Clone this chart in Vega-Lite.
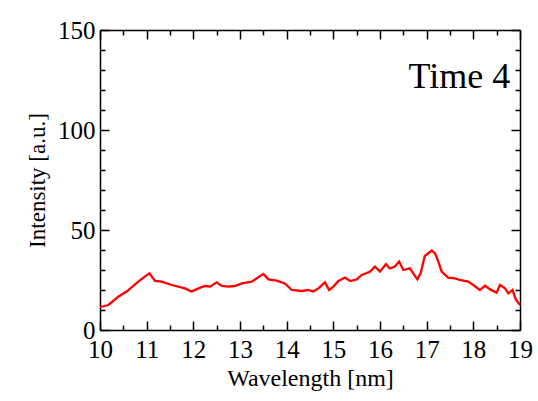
{
  "$schema": "https://vega.github.io/schema/vega-lite/v6.json",
  "width": 420,
  "height": 300,
  "autosize": "none",
  "padding": {"left": 100, "top": 30, "right": 18, "bottom": 71},
  "background": "white",
  "config": {
    "view": {"stroke": null},
    "font": "Liberation Serif",
    "axis": {
      "grid": false,
      "domainColor": "black",
      "domainWidth": 1.5,
      "tickColor": "black",
      "tickWidth": 1.5,
      "labelFont": "Liberation Serif",
      "labelFontSize": 25,
      "labelColor": "black",
      "titleFont": "Liberation Serif",
      "titleFontSize": 23,
      "titleFontWeight": "normal",
      "titleColor": "black",
      "labelFlush": false,
      "labelOverlap": false
    }
  },
  "data": {
    "values": [
      {"w": 10.0, "i": 11.5}, {"w": 10.18, "i": 12.5}, {"w": 10.39, "i": 16.6}, {"w": 10.57, "i": 19.2},
      {"w": 10.82, "i": 24.2}, {"w": 10.96, "i": 26.7}, {"w": 11.06, "i": 28.3}, {"w": 11.18, "i": 24.5},
      {"w": 11.32, "i": 24.2}, {"w": 11.54, "i": 22.5}, {"w": 11.82, "i": 20.8}, {"w": 11.96, "i": 19.2},
      {"w": 12.11, "i": 20.8}, {"w": 12.25, "i": 22.0}, {"w": 12.36, "i": 21.7}, {"w": 12.5, "i": 23.8},
      {"w": 12.61, "i": 22.0}, {"w": 12.75, "i": 21.7}, {"w": 12.89, "i": 22.0}, {"w": 13.04, "i": 23.3},
      {"w": 13.25, "i": 24.2}, {"w": 13.5, "i": 28.0}, {"w": 13.61, "i": 25.3}, {"w": 13.79, "i": 24.7},
      {"w": 13.96, "i": 23.3}, {"w": 14.11, "i": 20.0}, {"w": 14.32, "i": 19.5}, {"w": 14.46, "i": 20.0},
      {"w": 14.57, "i": 19.2}, {"w": 14.68, "i": 20.8}, {"w": 14.82, "i": 23.8}, {"w": 14.91, "i": 20.0},
      {"w": 15.0, "i": 21.7}, {"w": 15.11, "i": 24.5}, {"w": 15.25, "i": 26.2}, {"w": 15.36, "i": 24.5},
      {"w": 15.5, "i": 25.3}, {"w": 15.61, "i": 27.5}, {"w": 15.79, "i": 29.2}, {"w": 15.89, "i": 31.7},
      {"w": 16.0, "i": 29.2}, {"w": 16.13, "i": 33.0}, {"w": 16.21, "i": 30.8}, {"w": 16.32, "i": 31.7},
      {"w": 16.41, "i": 34.2}, {"w": 16.5, "i": 30.0}, {"w": 16.64, "i": 30.8}, {"w": 16.8, "i": 25.3},
      {"w": 16.87, "i": 28.3}, {"w": 16.96, "i": 37.0}, {"w": 17.11, "i": 39.7}, {"w": 17.18, "i": 38.3},
      {"w": 17.25, "i": 34.2}, {"w": 17.32, "i": 29.2}, {"w": 17.46, "i": 26.2}, {"w": 17.61, "i": 25.8},
      {"w": 17.71, "i": 25.0}, {"w": 17.89, "i": 24.2}, {"w": 18.0, "i": 22.5}, {"w": 18.14, "i": 20.0},
      {"w": 18.25, "i": 22.2}, {"w": 18.36, "i": 20.3}, {"w": 18.5, "i": 18.7}, {"w": 18.57, "i": 22.5},
      {"w": 18.68, "i": 20.8}, {"w": 18.75, "i": 18.3}, {"w": 18.84, "i": 20.0}, {"w": 18.91, "i": 15.3},
      {"w": 19.0, "i": 12.5}
    ]
  },
  "layer": [
    {
      "mark": {"type": "line", "color": "#ff0000", "strokeWidth": 2.3},
      "encoding": {
        "x": {"field": "w", "type": "quantitative", "scale": {"domain": [10, 19], "nice": false, "zero": false},
          "axis": {"orient": "bottom", "values": [10, 11, 12, 13, 14, 15, 16, 17, 18, 19], "tickSize": -9, "labelPadding": 16, "title": "Wavelength [nm]", "titleFontSize": 24, "titlePadding": 4}},
        "y": {"field": "i", "type": "quantitative", "scale": {"domain": [0, 150], "nice": false, "zero": true},
          "axis": {"orient": "left", "values": [0, 50, 100, 150], "tickSize": -9, "labelPadding": 14, "title": "Intensity [a.u.]", "titlePadding": 8}}
      }
    },
    {
      "mark": {"type": "line", "opacity": 0},
      "encoding": {
        "x": {"field": "w", "type": "quantitative",
          "axis": {"orient": "bottom", "values": [10.5, 11.5, 12.5, 13.5, 14.5, 15.5, 16.5, 17.5, 18.5], "tickSize": -5, "labels": false, "domain": false, "title": null}},
        "y": {"field": "i", "type": "quantitative",
          "axis": {"orient": "left", "values": [10, 20, 30, 40, 60, 70, 80, 90, 110, 120, 130, 140], "tickSize": -5, "labels": false, "domain": false, "title": null}}
      }
    },
    {
      "mark": {"type": "line", "opacity": 0},
      "encoding": {
        "x": {"field": "w", "type": "quantitative",
          "axis": {"orient": "top", "values": [10, 11, 12, 13, 14, 15, 16, 17, 18, 19], "tickSize": -9, "labels": false, "title": null}},
        "y": {"field": "i", "type": "quantitative",
          "axis": {"orient": "right", "values": [0, 50, 100, 150], "tickSize": -9, "labels": false, "title": null}}
      }
    },
    {
      "mark": {"type": "line", "opacity": 0},
      "encoding": {
        "x": {"field": "w", "type": "quantitative",
          "axis": {"orient": "top", "values": [10.5, 11.5, 12.5, 13.5, 14.5, 15.5, 16.5, 17.5, 18.5], "tickSize": -5, "labels": false, "domain": false, "title": null}},
        "y": {"field": "i", "type": "quantitative",
          "axis": {"orient": "right", "values": [10, 20, 30, 40, 60, 70, 80, 90, 110, 120, 130, 140], "tickSize": -5, "labels": false, "domain": false, "title": null}}
      }
    },
    {
      "data": {"values": [{"label": "Time 4", "w": 18.79, "i": 121}]},
      "mark": {"type": "text", "font": "Liberation Serif", "fontSize": 36, "align": "right", "baseline": "alphabetic", "color": "black"},
      "encoding": {
        "x": {"field": "w", "type": "quantitative", "axis": null},
        "y": {"field": "i", "type": "quantitative", "axis": null},
        "text": {"field": "label"}
      }
    }
  ],
  "resolve": {"axis": {"x": "independent", "y": "independent"}}
}
